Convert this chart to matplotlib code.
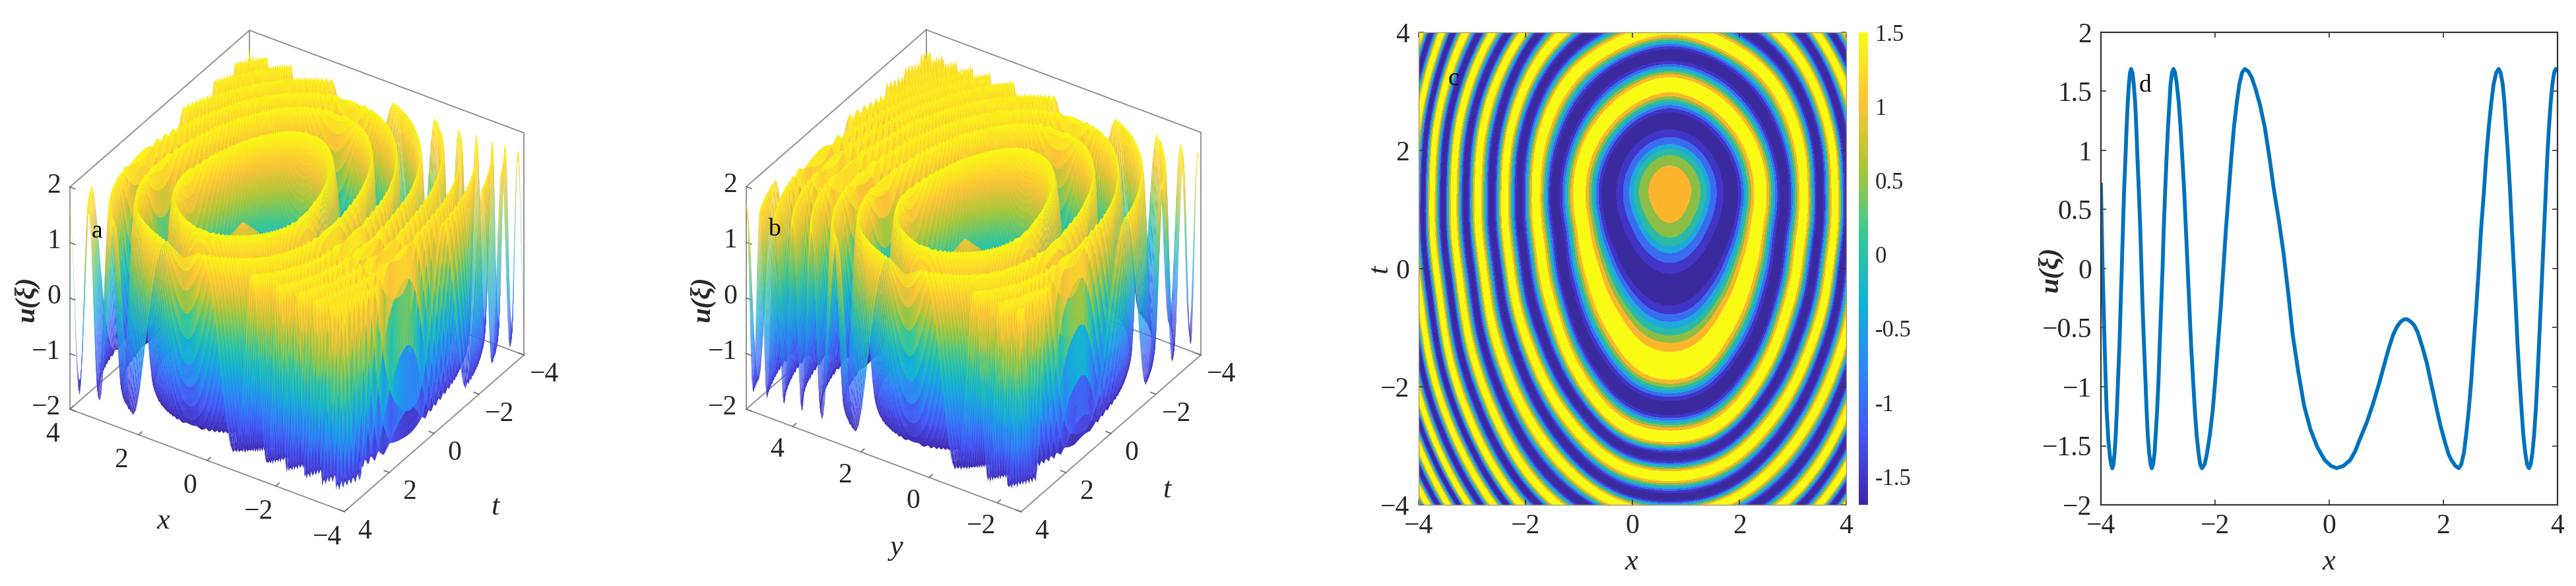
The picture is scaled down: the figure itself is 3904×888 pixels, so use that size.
import numpy as np
import matplotlib
matplotlib.use('Agg')
import matplotlib.pyplot as plt
from matplotlib.colors import LinearSegmentedColormap, Normalize
from matplotlib.cm import ScalarMappable
from mpl_toolkits.mplot3d import proj3d

W, H = 3904, 888

# the surface in a, b, c: ridge (crest) and valley (trough) rings,
# radius from the centre bump along each ray. Left/right halves mirror each other.
# Cells between the rings have to be filled in, the picture only gives the rings.
centre_x, centre_t = 0.70, 1.34
ray_angles = [90, 67.5, 45, 22.5, 0, -22.5, -45, -67.5, -78.75, -90]
ring_u = [-1.69, 1.69] * 11
ring_radius = [
    [1.18, 1.16, 1.13, 1.13, 1.16, 1.19, 1.28, 1.50, 1.62, 1.67],
    [1.80, 1.72, 1.68, 1.69, 1.70, 1.74, 2.02, 2.58, 3.01, 3.11],
    [2.29, 2.25, 2.18, 2.13, 2.15, 2.20, 2.62, 3.30, 3.68, 3.74],
    [2.74, 2.65, 2.66, 2.56, 2.49, 2.60, 3.02, 3.78, 4.19, 4.20],
    [3.11, 3.05, 3.00, 2.88, 2.79, 2.92, 3.38, 4.10, 4.52, 4.54],
    [3.45, 3.38, 3.30, 3.16, 3.07, 3.22, 3.72, 4.45, 4.83, 4.86],
    [3.80, 3.72, 3.60, 3.40, 3.30, 3.45, 3.99, 4.80, 5.20, 5.23],
    [4.10, 3.98, 3.82, 3.68, 3.57, 3.73, 4.32, 5.10, 5.45, 5.49],
    [4.40, 4.22, 4.05, 3.90, 3.79, 3.95, 4.59, 5.45, 5.71, 5.75],
    [4.65, 4.50, 4.30, 4.13, 4.02, 4.20, 4.86, 5.76, 5.96, 6.00],
    [4.90, 4.75, 4.50, 4.33, 4.21, 4.40, 5.09, 6.00, 6.15, 6.20],
    [5.15, 5.00, 4.75, 4.55, 4.42, 4.62, 5.35, 6.25, 6.35, 6.40],
    [5.35, 5.20, 5.00, 4.72, 4.58, 4.80, 5.54, 6.45, 6.55, 6.60],
    [5.55, 5.40, 5.20, 4.90, 4.75, 5.00, 5.75, 6.65, 6.75, 6.80],
    [5.75, 5.60, 5.40, 5.08, 4.92, 5.17, 5.95, 6.85, 6.95, 7.00],
    [5.95, 5.80, 5.60, 5.25, 5.08, 5.35, 6.15, 7.05, 7.15, 7.20],
    [6.15, 6.00, 5.80, 5.40, 5.22, 5.50, 6.30, 7.20, 7.35, 7.40],
    [6.35, 6.20, 6.00, 5.60, 5.37, 5.67, 6.47, 7.40, 7.55, 7.60],
    [6.55, 6.40, 6.20, 5.75, 5.52, 5.82, 6.65, 7.55, 7.70, 7.75],
    [6.75, 6.60, 6.40, 5.90, 5.65, 5.97, 6.82, 7.70, 7.85, 7.90],
    [6.95, 6.80, 6.60, 6.05, 5.80, 6.10, 7.00, 7.85, 8.00, 8.05],
    [7.15, 7.00, 6.80, 6.20, 5.92, 6.25, 7.15, 8.00, 8.15, 8.20],
]
# how u falls from a crest to a trough, and from the centre bump to the first trough
wave_frac = [0, 0.125, 0.25, 0.375, 0.5, 0.625, 0.75, 0.875, 1]
wave_u = [1.69, 1.56, 1.195, 0.647, 0, -0.647, -1.195, -1.56, -1.69]
bump_frac = [0, 0.34, 0.49, 0.58, 0.65, 0.75, 0.86, 1]
bump_u = [1.2, 0.845, 0.42, 0, -0.42, -0.845, -1.27, -1.69]

# panel d
line_x = [-4.00, -3.974, -3.957, -3.94, -3.92, -3.90, -3.87, -3.84, -3.82,
          -3.80, -3.78, -3.76, -3.74, -3.72, -3.70, -3.675, -3.655, -3.635, -3.615, -3.595, -3.57, -3.55, -3.53, -3.51, -3.49, -3.47,
          -3.4475, -3.425, -3.40, -3.38, -3.36, -3.335, -3.31, -3.29, -3.27, -3.245, -3.22, -3.20, -3.18, -3.155, -3.13, -3.11,
          -3.086, -3.06, -3.04, -3.015, -2.99, -2.97, -2.945, -2.92, -2.90, -2.875, -2.85, -2.825, -2.80, -2.78, -2.755, -2.73,
          -2.70, -2.67, -2.636, -2.605, -2.574, -2.54, -2.51, -2.48, -2.45, -2.42, -2.386, -2.355, -2.324, -2.29, -2.26, -2.23,
          -2.183, -2.14, -2.09, -2.04, -1.996, -1.95, -1.90, -1.855, -1.81, -1.76, -1.715, -1.67, -1.62, -1.575, -1.527, -1.48,
          -1.42, -1.36, -1.29, -1.21, -1.13, -1.05, -0.97, -0.88, -0.80, -0.72, -0.64, -0.54, -0.44, -0.33, -0.21, -0.08, 0.03,
          0.13, 0.25, 0.37, 0.46, 0.54, 0.66, 0.77, 0.87, 0.96, 1.04, 1.12, 1.19, 1.25, 1.31, 1.37,
          1.43, 1.49, 1.55, 1.63, 1.71, 1.79, 1.87, 1.95, 2.04, 2.09, 2.14, 2.21, 2.27,
          2.314, 2.36, 2.40, 2.445, 2.49, 2.53, 2.576, 2.62, 2.66, 2.71, 2.75, 2.795, 2.84, 2.88, 2.926, 2.97,
          3.003, 3.04, 3.07, 3.10, 3.135, 3.17, 3.20, 3.235, 3.27, 3.30, 3.335, 3.37, 3.40, 3.435, 3.467, 3.50,
          3.53, 3.56, 3.59, 3.62, 3.647, 3.675, 3.705, 3.735, 3.765, 3.795, 3.82, 3.85, 3.88, 3.91, 3.94, 3.97, 4.00]
line_u = [0.71, 0.07, -0.25, -0.56, -0.90, -1.20, -1.45, -1.60, -1.66,
          -1.69, -1.658, -1.56, -1.404, -1.195, -0.94, -0.647, -0.33, 0, 0.33, 0.647, 0.94, 1.195, 1.404, 1.56, 1.658, 1.69,
          1.658, 1.56, 1.404, 1.195, 0.94, 0.647, 0.33, 0, -0.33, -0.647, -0.94, -1.195, -1.404, -1.56, -1.658, -1.69,
          -1.658, -1.56, -1.404, -1.195, -0.94, -0.647, -0.33, 0, 0.33, 0.647, 0.94, 1.195, 1.404, 1.56, 1.658, 1.69,
          1.658, 1.56, 1.404, 1.195, 0.94, 0.647, 0.33, 0, -0.33, -0.647, -0.94, -1.195, -1.404, -1.56, -1.658, -1.69,
          -1.658, -1.56, -1.404, -1.195, -0.94, -0.647, -0.33, 0, 0.33, 0.647, 0.94, 1.195, 1.404, 1.56, 1.658, 1.69,
          1.67, 1.62, 1.52, 1.38, 1.20, 0.95, 0.67, 0.40, 0.13, -0.20, -0.56, -0.88, -1.16, -1.36, -1.51, -1.62, -1.67,
          -1.69, -1.67, -1.62, -1.54, -1.44, -1.30, -1.14, -0.98, -0.82, -0.68, -0.56, -0.49, -0.45, -0.43, -0.43,
          -0.45, -0.48, -0.54, -0.66, -0.80, -0.98, -1.16, -1.33, -1.49, -1.57, -1.62, -1.67, -1.69,
          -1.658, -1.56, -1.404, -1.195, -0.94, -0.647, -0.33, 0, 0.33, 0.647, 0.94, 1.195, 1.404, 1.56, 1.658, 1.69,
          1.658, 1.56, 1.404, 1.195, 0.94, 0.647, 0.33, 0, -0.33, -0.647, -0.94, -1.195, -1.404, -1.56, -1.658, -1.69,
          -1.658, -1.56, -1.404, -1.195, -0.94, -0.647, -0.33, 0, 0.33, 0.647, 0.94, 1.195, 1.404, 1.56, 1.658, 1.69, 1.68]

xy_ticks = [-4, -2, 0, 2, 4]
y_ticks_b = [-2, 0, 2, 4]
z_ticks = [-2, -1, 0, 1, 2]
d_yticks = [-2, -1.5, -1, -0.5, 0, 0.5, 1, 1.5, 2]
d_ylabels = ['\u22122', '\u22121.5', '\u22121', '\u22120.5', '0', '0.5', '1', '1.5', '2']
cbar_ticks = [-1.5, -1, -0.5, 0, 0.5, 1, 1.5]
cbar_labels = ['-1.5', '-1', '-0.5', '0', '0.5', '1', '1.5']

parula = LinearSegmentedColormap.from_list('parula', [
    (0.2422, 0.1504, 0.6603), (0.2810, 0.3228, 0.9579), (0.1786, 0.5289, 0.9682),
    (0.0689, 0.6948, 0.8394), (0.2161, 0.7843, 0.5923), (0.6720, 0.7793, 0.2227),
    (0.9970, 0.7659, 0.2199), (0.9769, 0.9839, 0.0805)])
band_levels = [-1.70, -1.27, -0.845, -0.42, 0, 0.42, 0.845, 1.27, 1.70]
band_colors = ['#3b2a9e', '#4135c8', '#3a6cf0', '#1fa8dd', '#2bbba5', '#8cbe45', '#fcb52d', '#f9fb15']

plt.rcParams['font.family'] = ['Liberation Serif', 'DejaVu Serif']
TXT = '#262626'

# round the corners a ring would get at each ray
dense_ang = np.arange(-90, 90.25, 0.5)
box = np.ones(25) / 25
dense_radius = []
for row in ring_radius:
    d = np.interp(dense_ang, ray_angles[::-1], row[::-1])
    d = np.concatenate([d[24:0:-1], d, d[-2:-26:-1]])
    d = np.convolve(d, box, mode='same')
    dense_radius.append(np.convolve(d, box, mode='same')[24:-24])


def field(x, t):
    dx = np.abs(x - centre_x)
    dt = t - centre_t
    r = np.hypot(dx, dt)
    ang = np.degrees(np.arctan2(dt, dx))
    radii = [np.interp(ang, dense_ang, row) for row in dense_radius]
    u = np.full(x.shape, ring_u[-1], dtype=float)
    m = r < radii[0]
    u[m] = np.interp(r[m] / radii[0][m], bump_frac, bump_u)
    for k in range(len(radii) - 1):
        m = (r >= radii[k]) & (r < radii[k + 1])
        f = (r[m] - radii[k][m]) / (radii[k + 1][m] - radii[k][m])
        # wave_u runs crest to trough, so flip it when the segment starts on a trough
        sign = 1 if ring_u[k] > 0 else -1
        u[m] = sign * np.interp(f, wave_frac, wave_u)
    return u


def px(x, y):
    return x / W, 1 - y / H


def project(ax, x, y, z):
    a, b, _ = proj3d.proj_transform(x, y, z, ax.get_proj())
    return a, b


def make_3d(left_px, right_px, xlim):
    # square axes, resized until the box corners land where they are in the picture
    ax = fig.add_axes([0.1, 0.1, 800 / W, 800 / H], projection='3d', proj_type='ortho')
    ax.view_init(elev=34.8, azim=123.2)
    ax.set_box_aspect((1, 1, 0.825))
    ax.set_xlim(*xlim)
    ax.set_ylim(-4, 4)
    ax.set_zlim(-2, 2)
    ax.set_axis_off()
    size = 800.0
    lx, rx = xlim[1], xlim[0]
    for i in range(3):
        ax.apply_aspect()
        pa = ax.transData.transform(project(ax, lx, 4, -2))
        pb = ax.transData.transform(project(ax, rx, -4, -2))
        size *= (right_px[0] - left_px[0]) / (pb[0] - pa[0])
        pos = ax.get_position()
        ax.set_position([pos.x0, pos.y0, size / W, size / H])
        ax.apply_aspect()
        pa = ax.transData.transform(project(ax, lx, 4, -2))
        pos = ax.get_position()
        ax.set_position([pos.x0 + (left_px[0] - pa[0]) / W, pos.y0 + ((H - left_px[1]) - pa[1]) / H,
                         size / W, size / H])
    return ax


def draw_surface(ax, lims, ticks, tick_off):
    x_lo, x_hi = lims
    g = np.linspace(x_lo, x_hi, 201)
    tg = np.linspace(-4, 4, 201)
    X, T = np.meshgrid(g, tg)
    ax.plot_surface(X, T, field(X, T), cmap=parula, vmin=-1.69, vmax=1.69, rstride=1, cstride=1,
                    linewidth=0, antialiased=True)
    edges = [((x_hi, 4, -2), (x_hi, 4, 2)), ((x_lo, -4, -2), (x_lo, -4, 2)), ((x_hi, -4, -2), (x_hi, -4, 2)),
             ((x_hi, 4, 2), (x_hi, -4, 2)), ((x_hi, -4, 2), (x_lo, -4, 2)),
             ((x_hi, 4, -2), (x_lo, 4, -2)), ((x_lo, 4, -2), (x_lo, -4, -2)),
             ((x_hi, 4, -2), (x_hi, -4, -2)), ((x_hi, -4, -2), (x_lo, -4, -2))]
    for a, b in edges:
        ax.plot(*zip(a, b), color='#8a8a8a', lw=1.3)
    kw = dict(color='#6a6a6a', lw=1.2)
    for v in ticks:
        ax.plot([v, v], [4, 3.85], [-2, -2], **kw)
        lab = str(v).replace('-', '\u2212')
        ax.annotate(lab, project(ax, v, 4, -2), xytext=tick_off, textcoords='offset pixels',
                    ha='center', va='center', fontsize=30, color=TXT, annotation_clip=False)
    for v in xy_ticks:
        ax.plot([x_lo, x_lo + 0.15], [v, v], [-2, -2], **kw)
        lab = str(v).replace('-', '\u2212')
        ax.annotate(lab, project(ax, x_lo, v, -2), xytext=(31, -30), textcoords='offset pixels',
                    ha='center', va='center', fontsize=30, color=TXT, annotation_clip=False)
    for v in z_ticks:
        ax.plot([x_hi, x_hi - 0.15], [4, 4], [v, v], **kw)
        lab = str(v).replace('-', '\u2212')
        ax.annotate(lab, project(ax, x_hi, 4, v), xytext=(-14, 2), textcoords='offset pixels',
                    ha='right', va='center', fontsize=30, color=TXT, annotation_clip=False)


fig = plt.figure(figsize=(W / 100, H / 100), dpi=100, facecolor='white')

# a
ax_a = make_3d((106, 620), (794, 538), (-4, 4))
draw_surface(ax_a, (-4, 4), xy_ticks, (-26, -39))

# b
ax_b = make_3d((1131, 620), (1820, 538), (-2.7, 5.36))
draw_surface(ax_b, (-2.7, 5.36), y_ticks_b, (-24, -36))

# c
ax_c = fig.add_axes([2150 / W, 1 - 765 / H, 648 / W, 716 / H])
gx = np.linspace(-4, 4, 801)
gt = np.linspace(-4, 4, 801)
GX, GT = np.meshgrid(gx, gt)
ax_c.contourf(GX, GT, field(GX, GT), levels=band_levels, colors=band_colors)
ax_c.set_xlim(-4, 4)
ax_c.set_ylim(-4, 4)

cax = fig.add_axes([2817 / W, 1 - 765 / H, 14 / W, 716 / H])
cb = fig.colorbar(ScalarMappable(Normalize(-1.69, 1.5), parula), cax=cax)
cb.set_ticks(cbar_ticks, labels=cbar_labels)
cb.ax.tick_params(length=0, labelsize=25, labelcolor=TXT, pad=8)
cb.outline.set_visible(False)

# d
ax_d = fig.add_axes([3184 / W, 1 - 765 / H, 692 / W, 716 / H])
ax_d.plot(line_x, line_u, color='#0072bd', lw=4.2)
ax_d.set_xlim(-4, 4)
ax_d.set_ylim(-2, 2)
ax_d.set_yticks(d_yticks, labels=d_ylabels)

for ax in (ax_c, ax_d):
    ax.set_xticks(xy_ticks, labels=[str(v).replace('-', '\u2212') for v in xy_ticks])
    ax.tick_params(direction='in', top=True, right=True, length=6, width=1.2, labelsize=30,
                   labelcolor=TXT, color='#333333', pad=10)
ax_c.set_yticks(xy_ticks, labels=[str(v).replace('-', '\u2212') for v in xy_ticks])
for s in ax_c.spines.values():
    s.set_color('#a09a80')
    s.set_linewidth(1)
for s in ax_d.spines.values():
    s.set_color('#333333')
    s.set_linewidth(1.6)

# axis names and panel letters
names = [(247, 790, 'x', 0), (750, 769, 't', 0), (1359, 830, 'y', 0), (1768, 743, 't', 0),
         (2472, 852, 'x', 0), (2091, 408, 't', 90), (3529, 852, 'x', 0)]
for x, y, s, rot in names:
    fig.text(*px(x, y), s, style='italic', fontsize=32, color=TXT, rotation=rot, ha='center', va='center')
for x, y in [(41, 453), (1065, 453), (3108, 408)]:
    fig.text(*px(x, y), 'u(\u03be)', style='italic', weight='bold', fontsize=30, color=TXT, rotation=90,
             ha='center', va='center')
for x, y, s in [(147, 351, 'a'), (1173, 348, 'b'), (2203, 120, 'c'), (3251, 130, 'd')]:
    fig.text(*px(x, y), s, fontsize=27, color='black', ha='center', va='center')

fig.savefig('out.png', dpi=100)
